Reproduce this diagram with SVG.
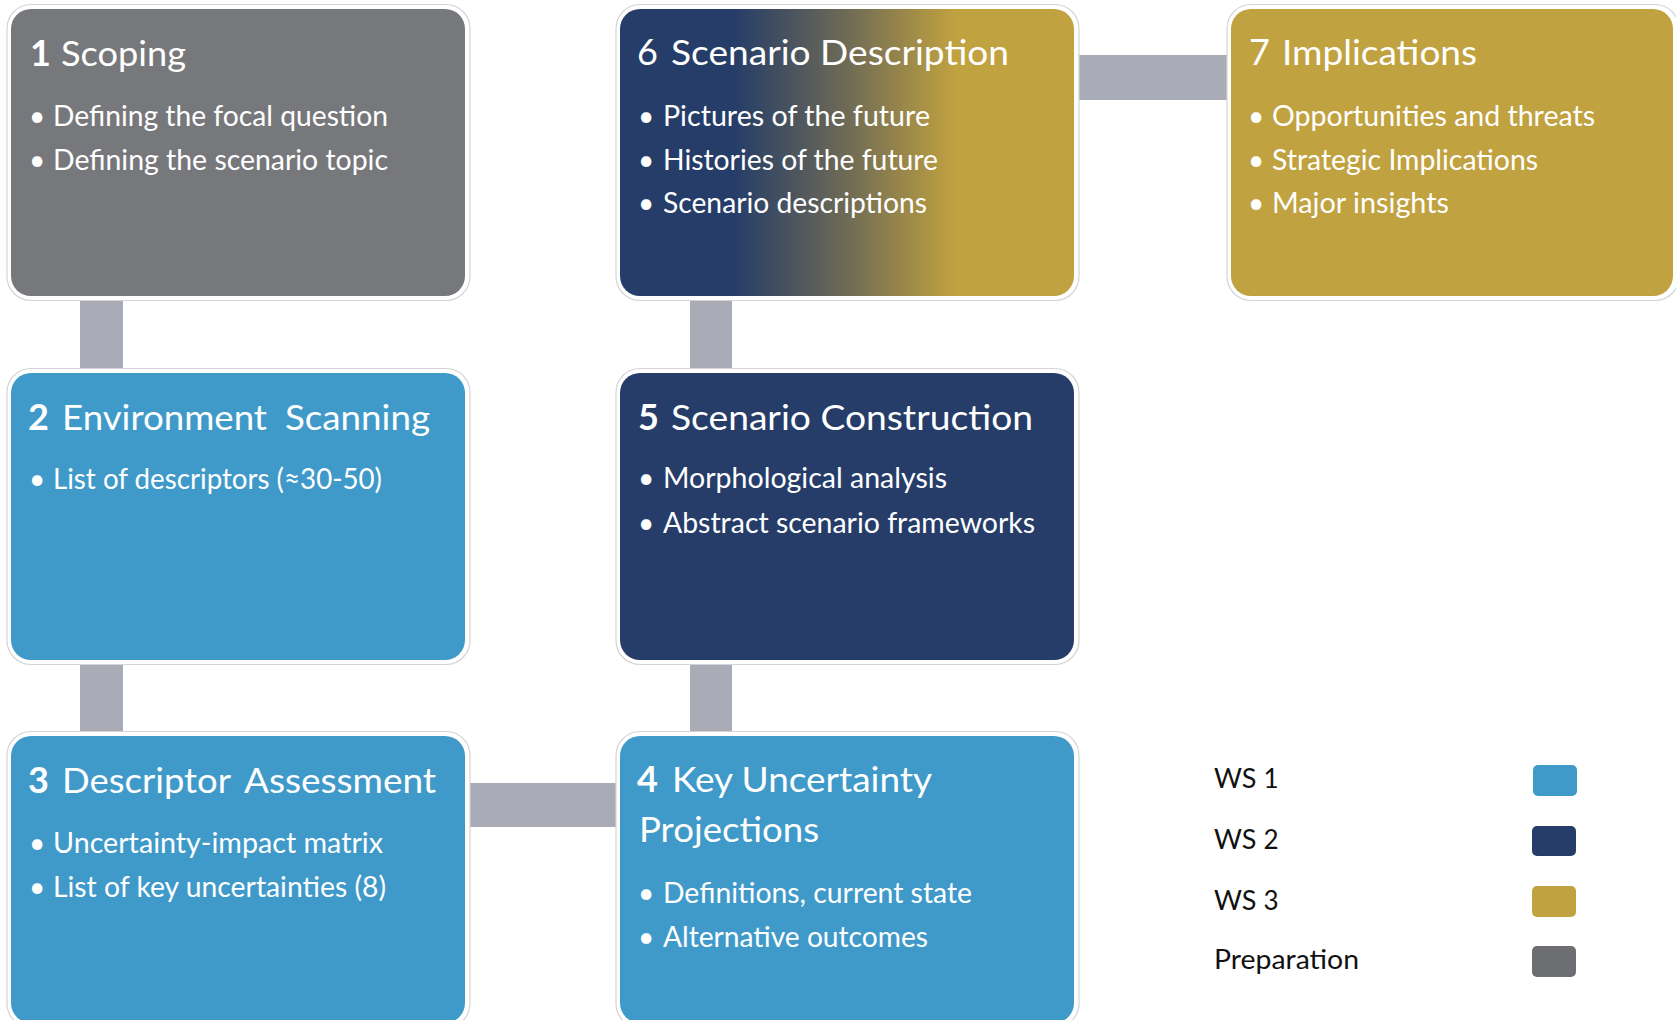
<svg xmlns="http://www.w3.org/2000/svg" width="1676" height="1020" viewBox="0 0 1676 1020">
<style>
.ring{fill:#fff;stroke:#d4d4d6;stroke-width:1.2}
.conn{fill:#a9abb6}
.t{font-family:Lato,"Open Sans",sans-serif;fill:#fff}
.ttl{font-size:35px}
.num{font-size:36px}
.b{font-weight:bold}
.bl{font-size:28px}
.dot{font-size:28px;text-anchor:middle}
.lg{font-family:Lato,"Open Sans",sans-serif;fill:#111;font-size:27px}
</style>
<defs>
<linearGradient id="g6" x1="0" y1="0" x2="1" y2="0">
<stop offset="0.25" stop-color="#253d68"/>
<stop offset="0.5" stop-color="#6e6a55"/>
<stop offset="0.74" stop-color="#c1a240"/>
</linearGradient>
</defs>
<rect width="1676" height="1020" fill="#fff"/>
<g id="connectors">
<rect class="conn" x="80" y="290" width="43" height="90"/>
<rect class="conn" x="80" y="655" width="43" height="90"/>
<rect class="conn" x="690" y="290" width="42" height="90"/>
<rect class="conn" x="690" y="655" width="42" height="90"/>
<rect class="conn" x="1060" y="55" width="185" height="45"/>
<rect class="conn" x="455" y="783" width="175" height="44"/>
</g>
<g id="node1">
<rect class="ring" x="7" y="4.5" width="463" height="296" rx="24"/>
<rect x="11" y="9" width="454" height="287" rx="20" fill="#77787b"/>
<text class="t num b" x="30" y="66">1</text>
<text class="t ttl" x="61" y="66" textLength="125" lengthAdjust="spacingAndGlyphs">Scoping</text>
<text class="t dot" x="37" y="126">•</text>
<text class="t bl" x="53" y="126" textLength="335" lengthAdjust="spacingAndGlyphs">Defining the focal question</text>
<text class="t dot" x="37" y="170">•</text>
<text class="t bl" x="53" y="170" textLength="335" lengthAdjust="spacingAndGlyphs">Defining the scenario topic</text>
</g>
<g id="node2">
<rect class="ring" x="7" y="368.5" width="463" height="296" rx="24"/>
<rect x="11" y="373" width="454" height="287" rx="20" fill="#3f9aca"/>
<text class="t num b" x="28" y="430">2</text>
<text class="t ttl" x="62" y="430" textLength="205" lengthAdjust="spacingAndGlyphs">Environment</text>
<text class="t ttl" x="285" y="430" textLength="145" lengthAdjust="spacingAndGlyphs">Scanning</text>
<text class="t dot" x="37" y="489">•</text>
<text class="t bl" x="53" y="489" textLength="329" lengthAdjust="spacingAndGlyphs">List of descriptors (≈30-50)</text>
</g>
<g id="node3">
<rect class="ring" x="7" y="731.5" width="463" height="296" rx="24"/>
<rect x="11" y="736" width="454" height="287" rx="20" fill="#3f9aca"/>
<text class="t num b" x="28" y="793">3</text>
<text class="t ttl" x="62" y="793" textLength="169" lengthAdjust="spacingAndGlyphs">Descriptor</text>
<text class="t ttl" x="244" y="793" textLength="192" lengthAdjust="spacingAndGlyphs">Assessment</text>
<text class="t dot" x="37" y="853">•</text>
<text class="t bl" x="53" y="853" textLength="330" lengthAdjust="spacingAndGlyphs">Uncertainty-impact matrix</text>
<text class="t dot" x="37" y="897">•</text>
<text class="t bl" x="53" y="897" textLength="333" lengthAdjust="spacingAndGlyphs">List of key uncertainties (8)</text>
</g>
<g id="node4">
<rect class="ring" x="616" y="731.5" width="463" height="296" rx="24"/>
<rect x="620" y="736" width="454" height="287" rx="20" fill="#3f9aca"/>
<text class="t num b" x="637" y="792">4</text>
<text class="t ttl" x="672" y="792" textLength="260" lengthAdjust="spacingAndGlyphs">Key Uncertainty</text>
<text class="t ttl" x="639" y="842" textLength="180" lengthAdjust="spacingAndGlyphs">Projections</text>
<text class="t dot" x="646" y="903">•</text>
<text class="t bl" x="663" y="903" textLength="309" lengthAdjust="spacingAndGlyphs">Definitions, current state</text>
<text class="t dot" x="646" y="947">•</text>
<text class="t bl" x="663" y="947" textLength="265" lengthAdjust="spacingAndGlyphs">Alternative outcomes</text>
</g>
<g id="node5">
<rect class="ring" x="616" y="368.5" width="463" height="296" rx="24"/>
<rect x="620" y="373" width="454" height="287" rx="20" fill="#253d68"/>
<text class="t num b" x="638" y="430">5</text>
<text class="t ttl" x="671" y="430" textLength="362" lengthAdjust="spacingAndGlyphs">Scenario Construction</text>
<text class="t dot" x="646" y="488">•</text>
<text class="t bl" x="663" y="488" textLength="284" lengthAdjust="spacingAndGlyphs">Morphological analysis</text>
<text class="t dot" x="646" y="533">•</text>
<text class="t bl" x="663" y="533" textLength="372" lengthAdjust="spacingAndGlyphs">Abstract scenario frameworks</text>
</g>
<g id="node6">
<rect class="ring" x="616" y="4.5" width="463" height="296" rx="24"/>
<rect x="620" y="9" width="454" height="287" rx="20" fill="url(#g6)"/>
<text class="t num" x="637" y="65">6</text>
<text class="t ttl" x="671" y="65" textLength="338" lengthAdjust="spacingAndGlyphs">Scenario Description</text>
<text class="t dot" x="646" y="126">•</text>
<text class="t bl" x="663" y="126" textLength="267" lengthAdjust="spacingAndGlyphs">Pictures of the future</text>
<text class="t dot" x="646" y="170">•</text>
<text class="t bl" x="663" y="170" textLength="275" lengthAdjust="spacingAndGlyphs">Histories of the future</text>
<text class="t dot" x="646" y="213">•</text>
<text class="t bl" x="663" y="213" textLength="264" lengthAdjust="spacingAndGlyphs">Scenario descriptions</text>
</g>
<g id="node7">
<rect class="ring" x="1227" y="4.5" width="452" height="296" rx="24"/>
<rect x="1231" y="9" width="442" height="287" rx="20" fill="#c1a240"/>
<text class="t num" x="1249" y="65">7</text>
<text class="t ttl" x="1282" y="65" textLength="195" lengthAdjust="spacingAndGlyphs">Implications</text>
<text class="t dot" x="1256" y="126">•</text>
<text class="t bl" x="1272" y="126" textLength="323" lengthAdjust="spacingAndGlyphs">Opportunities and threats</text>
<text class="t dot" x="1256" y="170">•</text>
<text class="t bl" x="1272" y="170" textLength="266" lengthAdjust="spacingAndGlyphs">Strategic Implications</text>
<text class="t dot" x="1256" y="213">•</text>
<text class="t bl" x="1272" y="213" textLength="177" lengthAdjust="spacingAndGlyphs">Major insights</text>
</g>
<g id="legend">
<text class="lg" x="1214" y="788">WS <tspan font-size="26">1</tspan></text>
<rect x="1533" y="765" width="44" height="31" rx="5" fill="#3f9aca"/>
<text class="lg" x="1214" y="849">WS <tspan font-size="26">2</tspan></text>
<rect x="1532" y="826" width="44" height="30" rx="5" fill="#253d68"/>
<text class="lg" x="1214" y="910">WS <tspan font-size="26">3</tspan></text>
<rect x="1532" y="886" width="44" height="31" rx="5" fill="#c1a240"/>
<text class="lg" x="1214" y="969" textLength="145" lengthAdjust="spacingAndGlyphs">Preparation</text>
<rect x="1532" y="946" width="44" height="31" rx="5" fill="#6d6e71"/>
</g>
</svg>
